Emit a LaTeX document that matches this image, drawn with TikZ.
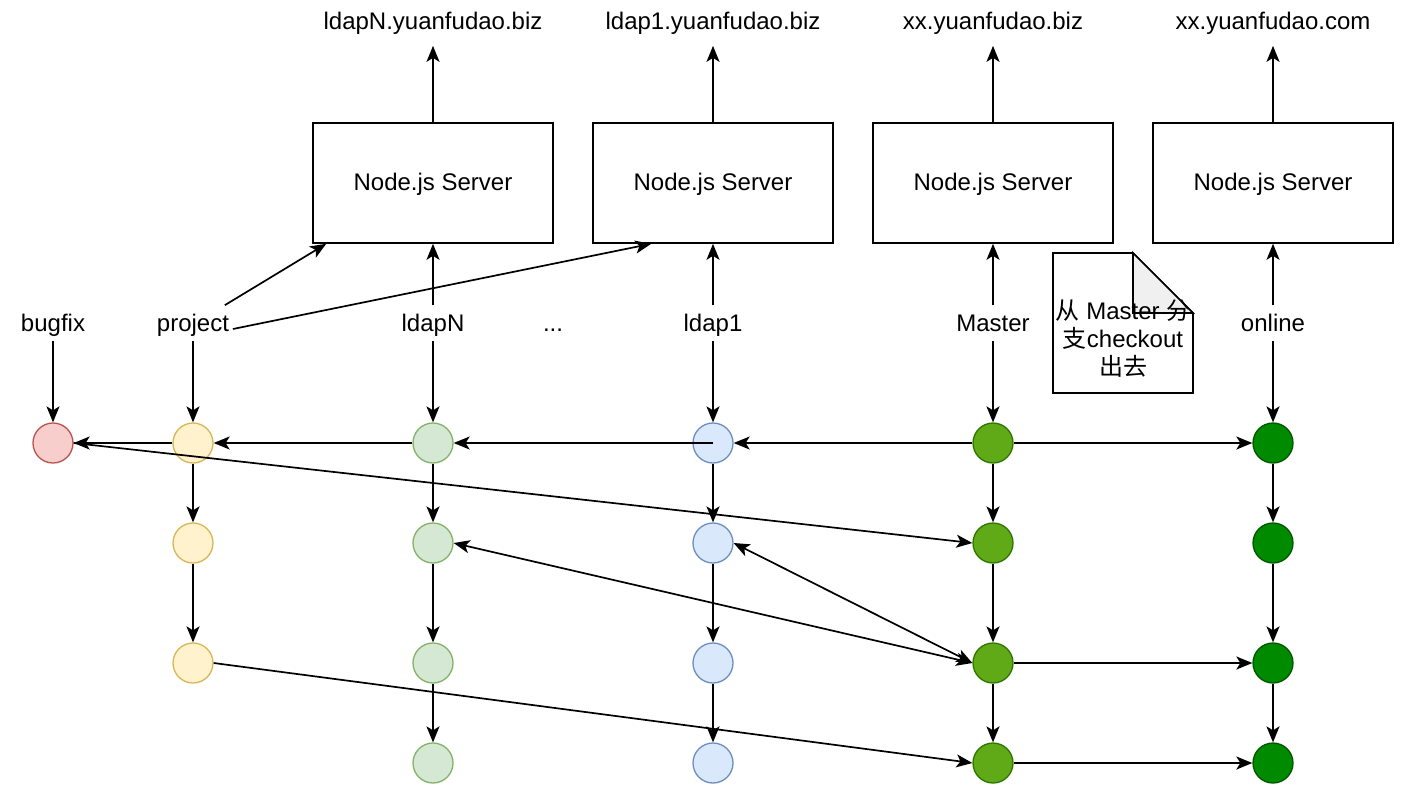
\documentclass[tikz,border=0pt]{standalone}
\usepackage{fontspec}
\setmainfont{Liberation Sans}
\newfontfamily\cjk{Noto Sans CJK SC}
\usetikzlibrary{arrows.meta}
\definecolor{redfill}{HTML}{F8CECC}\definecolor{reddraw}{HTML}{B85450}
\definecolor{yelfill}{HTML}{FFF2CC}\definecolor{yeldraw}{HTML}{D6B656}
\definecolor{grnfill}{HTML}{D5E8D4}\definecolor{grndraw}{HTML}{82B366}
\definecolor{blufill}{HTML}{DAE8FC}\definecolor{bludraw}{HTML}{6C8EBF}
\definecolor{mstfill}{HTML}{60A917}\definecolor{mstdraw}{HTML}{2D7600}
\definecolor{onlfill}{HTML}{008A00}\definecolor{onldraw}{HTML}{005700}
\definecolor{foldgray}{HTML}{F0F0F0}
\tikzset{
  commit/.style={circle, minimum size=40pt, inner sep=0pt, line width=1.3pt},
  server/.style={draw, line width=1.6pt, minimum width=240pt, minimum height=120pt,
    text height=17pt, text depth=3pt},
  branch/.style={minimum height=34pt, inner sep=3pt, text height=19pt, text depth=3pt},
  url/.style={minimum height=44pt, inner sep=0pt, text height=17pt, text depth=5pt},
  >={Stealth[length=16pt,width=13pt,inset=4pt]}
}
\begin{document}
\begin{tikzpicture}[x=1pt,y=-1pt,line width=1.7pt,font=\fontsize{24pt}{28pt}\selectfont]
\useasboundingbox (0,0) rectangle (1418,804);
% servers and their urls
\node[server] (sN) at (433,183) {Node.js Server};
\node[server] (s1) at (713,183) {Node.js Server};
\node[server] (sM) at (993,183) {Node.js Server};
\node[server] (sO) at (1273,183) {Node.js Server};
\node[url] (uN) at (433,23) {ldapN.yuanfudao.biz};
\node[url] (u1) at (713,23) {ldap1.yuanfudao.biz};
\node[url] (uM) at (993,23) {xx.yuanfudao.biz};
\node[url] (uO) at (1273,23) {xx.yuanfudao.com};
\draw[->] (sN) -- (uN);
\draw[->] (s1) -- (u1);
\draw[->] (sM) -- (uM);
\draw[->] (sO) -- (uO);
% branch names
\node[branch] (bB) at (53,323) {bugfix};
\node[branch] (bP) at (193,323) {project};
\node[branch] (bN) at (433,323) {ldapN};
\node[branch] (bD) at (553,323) {...};
\node[branch] (b1) at (713,323) {ldap1};
\node[branch] (bM) at (993,323) {Master};
\node[branch] (bO) at (1273,323) {online};
\draw[->] (bN) -- (sN);
\draw[->] (b1) -- (s1);
\draw[->] (bM) -- (sM);
\draw[->] (bO) -- (sO);
\draw[->] ([xshift=-8pt]bP.north east) -- ([xshift=14pt]sN.south west);
\draw[->] ([yshift=-6pt]bP.east) -- ([xshift=59pt]s1.south west);
% note
\draw[fill=white] (1053,253) -- (1133,253) -- (1193,313) -- (1193,393) -- (1053,393) -- cycle;
\draw[fill=foldgray] (1133,253) -- (1133,313) -- (1193,313) -- cycle;
\node[align=center, inner sep=0pt] (note) at (1123,339)
  {{\cjk 从} Master {\cjk 分}\\{\cjk 支}checkout\\{\cjk 出去}};
% commits
\node[commit, draw=reddraw, fill=redfill] (r1) at (53,443) {};
\foreach \i/\y in {1/443,2/543,3/663} {
  \node[commit, draw=yeldraw, fill=yelfill] (p\i) at (193,\y) {};
}
\foreach \i/\y in {1/443,2/543,3/663,4/763} {
  \node[commit, draw=grndraw, fill=grnfill] (n\i) at (433,\y) {};
  \node[commit, draw=bludraw, fill=blufill] (l\i) at (713,\y) {};
  \node[commit, draw=mstdraw, fill=mstfill] (m\i) at (993,\y) {};
  \node[commit, draw=onldraw, fill=onlfill] (o\i) at (1273,\y) {};
}
\draw[->] (bB) -- (r1);
\draw[->] (bP) -- (p1);
\draw[->] (bN) -- (n1);
\draw[->] (b1) -- (l1);
\draw[->] (bM) -- (m1);
\draw[->] (bO) -- (o1);
\draw[->] (p1) -- (p2);
\draw[->] (p2) -- (p3);
\foreach \c in {n,l,m,o} {
  \draw[->] (\c1) -- (\c2);
  \draw[->] (\c2) -- (\c3);
  \draw[->] (\c3) -- (\c4);
}
% merges between branches
\draw[->] (m1) -- (l1);
\draw[->] (l1.center) -- (n1);
\draw[->] (n1) -- (p1);
\draw[->] (p1) -- (r1);
\draw[->] (m1) -- (o1);
\draw[->] (r1.east) -- (m2.west);
\draw[<->] (n2.east) -- (m3.west);
\draw[<->] (l2.east) -- (m3.west);
\draw[->] (m3) -- (o3);
\draw[->] (p3.east) -- (m4.west);
\draw[->] (m4) -- (o4);
\end{tikzpicture}
\end{document}
